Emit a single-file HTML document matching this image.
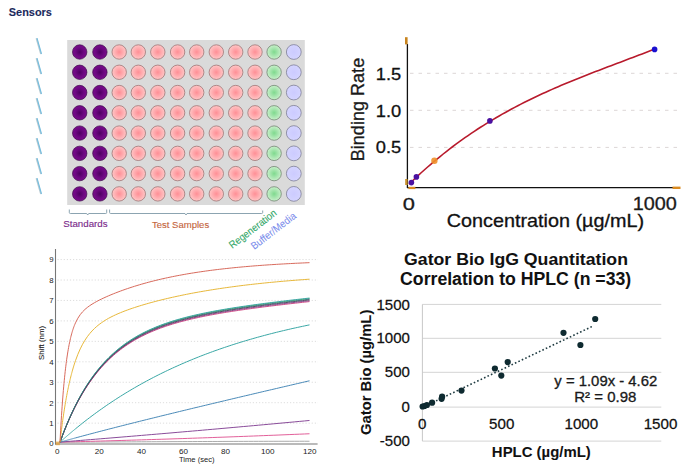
<!DOCTYPE html>
<html><head><meta charset="utf-8"><style>
html,body{margin:0;padding:0;background:#fff;width:694px;height:476px;overflow:hidden}
svg{position:absolute;left:0;top:0;display:block}
</style></head><body>
<svg width="694" height="476" viewBox="0 0 694 476">
<defs>
<radialGradient id="gP" cx="50%" cy="50%" r="50%"><stop offset="0" stop-color="#4e0062"/><stop offset="0.6" stop-color="#6e0882"/><stop offset="1" stop-color="#780c8a"/></radialGradient>
<radialGradient id="gR" cx="50%" cy="50%" r="50%"><stop offset="0" stop-color="#ff8f96"/><stop offset="1" stop-color="#ffc6c6"/></radialGradient>
<radialGradient id="gG" cx="50%" cy="50%" r="50%"><stop offset="0" stop-color="#7fd98e"/><stop offset="1" stop-color="#c9f0cb"/></radialGradient>
<radialGradient id="gB" cx="50%" cy="50%" r="50%"><stop offset="0" stop-color="#cccbff"/><stop offset="1" stop-color="#d4d4ff"/></radialGradient>
</defs>
<rect x="67.2" y="40" width="237.6" height="165" fill="#dadada"/>
<circle cx="79.70" cy="52.00" r="7.2" fill="url(#gP)" stroke="#3e0a4c" stroke-width="0.7"/>
<circle cx="99.90" cy="52.00" r="7.2" fill="url(#gP)" stroke="#3e0a4c" stroke-width="0.7"/>
<circle cx="119.20" cy="52.00" r="7.2" fill="url(#gR)" stroke="#9a7070" stroke-width="0.75"/>
<circle cx="138.30" cy="52.00" r="7.2" fill="url(#gR)" stroke="#9a7070" stroke-width="0.75"/>
<circle cx="157.80" cy="52.00" r="7.2" fill="url(#gR)" stroke="#9a7070" stroke-width="0.75"/>
<circle cx="177.60" cy="52.00" r="7.2" fill="url(#gR)" stroke="#9a7070" stroke-width="0.75"/>
<circle cx="196.70" cy="52.00" r="7.2" fill="url(#gR)" stroke="#9a7070" stroke-width="0.75"/>
<circle cx="216.30" cy="52.00" r="7.2" fill="url(#gR)" stroke="#9a7070" stroke-width="0.75"/>
<circle cx="235.70" cy="52.00" r="7.2" fill="url(#gR)" stroke="#9a7070" stroke-width="0.75"/>
<circle cx="255.00" cy="52.00" r="7.2" fill="url(#gR)" stroke="#9a7070" stroke-width="0.75"/>
<circle cx="274.10" cy="52.00" r="7.2" fill="url(#gG)" stroke="#6e806e" stroke-width="0.75"/>
<circle cx="293.80" cy="52.00" r="7.4" fill="url(#gB)" stroke="#7a7a92" stroke-width="0.75"/>
<circle cx="79.70" cy="72.27" r="7.2" fill="url(#gP)" stroke="#3e0a4c" stroke-width="0.7"/>
<circle cx="99.90" cy="72.27" r="7.2" fill="url(#gP)" stroke="#3e0a4c" stroke-width="0.7"/>
<circle cx="119.20" cy="72.27" r="7.2" fill="url(#gR)" stroke="#9a7070" stroke-width="0.75"/>
<circle cx="138.30" cy="72.27" r="7.2" fill="url(#gR)" stroke="#9a7070" stroke-width="0.75"/>
<circle cx="157.80" cy="72.27" r="7.2" fill="url(#gR)" stroke="#9a7070" stroke-width="0.75"/>
<circle cx="177.60" cy="72.27" r="7.2" fill="url(#gR)" stroke="#9a7070" stroke-width="0.75"/>
<circle cx="196.70" cy="72.27" r="7.2" fill="url(#gR)" stroke="#9a7070" stroke-width="0.75"/>
<circle cx="216.30" cy="72.27" r="7.2" fill="url(#gR)" stroke="#9a7070" stroke-width="0.75"/>
<circle cx="235.70" cy="72.27" r="7.2" fill="url(#gR)" stroke="#9a7070" stroke-width="0.75"/>
<circle cx="255.00" cy="72.27" r="7.2" fill="url(#gR)" stroke="#9a7070" stroke-width="0.75"/>
<circle cx="274.10" cy="72.27" r="7.2" fill="url(#gG)" stroke="#6e806e" stroke-width="0.75"/>
<circle cx="293.80" cy="72.27" r="7.4" fill="url(#gB)" stroke="#7a7a92" stroke-width="0.75"/>
<circle cx="79.70" cy="92.54" r="7.2" fill="url(#gP)" stroke="#3e0a4c" stroke-width="0.7"/>
<circle cx="99.90" cy="92.54" r="7.2" fill="url(#gP)" stroke="#3e0a4c" stroke-width="0.7"/>
<circle cx="119.20" cy="92.54" r="7.2" fill="url(#gR)" stroke="#9a7070" stroke-width="0.75"/>
<circle cx="138.30" cy="92.54" r="7.2" fill="url(#gR)" stroke="#9a7070" stroke-width="0.75"/>
<circle cx="157.80" cy="92.54" r="7.2" fill="url(#gR)" stroke="#9a7070" stroke-width="0.75"/>
<circle cx="177.60" cy="92.54" r="7.2" fill="url(#gR)" stroke="#9a7070" stroke-width="0.75"/>
<circle cx="196.70" cy="92.54" r="7.2" fill="url(#gR)" stroke="#9a7070" stroke-width="0.75"/>
<circle cx="216.30" cy="92.54" r="7.2" fill="url(#gR)" stroke="#9a7070" stroke-width="0.75"/>
<circle cx="235.70" cy="92.54" r="7.2" fill="url(#gR)" stroke="#9a7070" stroke-width="0.75"/>
<circle cx="255.00" cy="92.54" r="7.2" fill="url(#gR)" stroke="#9a7070" stroke-width="0.75"/>
<circle cx="274.10" cy="92.54" r="7.2" fill="url(#gG)" stroke="#6e806e" stroke-width="0.75"/>
<circle cx="293.80" cy="92.54" r="7.4" fill="url(#gB)" stroke="#7a7a92" stroke-width="0.75"/>
<circle cx="79.70" cy="112.81" r="7.2" fill="url(#gP)" stroke="#3e0a4c" stroke-width="0.7"/>
<circle cx="99.90" cy="112.81" r="7.2" fill="url(#gP)" stroke="#3e0a4c" stroke-width="0.7"/>
<circle cx="119.20" cy="112.81" r="7.2" fill="url(#gR)" stroke="#9a7070" stroke-width="0.75"/>
<circle cx="138.30" cy="112.81" r="7.2" fill="url(#gR)" stroke="#9a7070" stroke-width="0.75"/>
<circle cx="157.80" cy="112.81" r="7.2" fill="url(#gR)" stroke="#9a7070" stroke-width="0.75"/>
<circle cx="177.60" cy="112.81" r="7.2" fill="url(#gR)" stroke="#9a7070" stroke-width="0.75"/>
<circle cx="196.70" cy="112.81" r="7.2" fill="url(#gR)" stroke="#9a7070" stroke-width="0.75"/>
<circle cx="216.30" cy="112.81" r="7.2" fill="url(#gR)" stroke="#9a7070" stroke-width="0.75"/>
<circle cx="235.70" cy="112.81" r="7.2" fill="url(#gR)" stroke="#9a7070" stroke-width="0.75"/>
<circle cx="255.00" cy="112.81" r="7.2" fill="url(#gR)" stroke="#9a7070" stroke-width="0.75"/>
<circle cx="274.10" cy="112.81" r="7.2" fill="url(#gG)" stroke="#6e806e" stroke-width="0.75"/>
<circle cx="293.80" cy="112.81" r="7.4" fill="url(#gB)" stroke="#7a7a92" stroke-width="0.75"/>
<circle cx="79.70" cy="133.08" r="7.2" fill="url(#gP)" stroke="#3e0a4c" stroke-width="0.7"/>
<circle cx="99.90" cy="133.08" r="7.2" fill="url(#gP)" stroke="#3e0a4c" stroke-width="0.7"/>
<circle cx="119.20" cy="133.08" r="7.2" fill="url(#gR)" stroke="#9a7070" stroke-width="0.75"/>
<circle cx="138.30" cy="133.08" r="7.2" fill="url(#gR)" stroke="#9a7070" stroke-width="0.75"/>
<circle cx="157.80" cy="133.08" r="7.2" fill="url(#gR)" stroke="#9a7070" stroke-width="0.75"/>
<circle cx="177.60" cy="133.08" r="7.2" fill="url(#gR)" stroke="#9a7070" stroke-width="0.75"/>
<circle cx="196.70" cy="133.08" r="7.2" fill="url(#gR)" stroke="#9a7070" stroke-width="0.75"/>
<circle cx="216.30" cy="133.08" r="7.2" fill="url(#gR)" stroke="#9a7070" stroke-width="0.75"/>
<circle cx="235.70" cy="133.08" r="7.2" fill="url(#gR)" stroke="#9a7070" stroke-width="0.75"/>
<circle cx="255.00" cy="133.08" r="7.2" fill="url(#gR)" stroke="#9a7070" stroke-width="0.75"/>
<circle cx="274.10" cy="133.08" r="7.2" fill="url(#gG)" stroke="#6e806e" stroke-width="0.75"/>
<circle cx="293.80" cy="133.08" r="7.4" fill="url(#gB)" stroke="#7a7a92" stroke-width="0.75"/>
<circle cx="79.70" cy="153.35" r="7.2" fill="url(#gP)" stroke="#3e0a4c" stroke-width="0.7"/>
<circle cx="99.90" cy="153.35" r="7.2" fill="url(#gP)" stroke="#3e0a4c" stroke-width="0.7"/>
<circle cx="119.20" cy="153.35" r="7.2" fill="url(#gR)" stroke="#9a7070" stroke-width="0.75"/>
<circle cx="138.30" cy="153.35" r="7.2" fill="url(#gR)" stroke="#9a7070" stroke-width="0.75"/>
<circle cx="157.80" cy="153.35" r="7.2" fill="url(#gR)" stroke="#9a7070" stroke-width="0.75"/>
<circle cx="177.60" cy="153.35" r="7.2" fill="url(#gR)" stroke="#9a7070" stroke-width="0.75"/>
<circle cx="196.70" cy="153.35" r="7.2" fill="url(#gR)" stroke="#9a7070" stroke-width="0.75"/>
<circle cx="216.30" cy="153.35" r="7.2" fill="url(#gR)" stroke="#9a7070" stroke-width="0.75"/>
<circle cx="235.70" cy="153.35" r="7.2" fill="url(#gR)" stroke="#9a7070" stroke-width="0.75"/>
<circle cx="255.00" cy="153.35" r="7.2" fill="url(#gR)" stroke="#9a7070" stroke-width="0.75"/>
<circle cx="274.10" cy="153.35" r="7.2" fill="url(#gG)" stroke="#6e806e" stroke-width="0.75"/>
<circle cx="293.80" cy="153.35" r="7.4" fill="url(#gB)" stroke="#7a7a92" stroke-width="0.75"/>
<circle cx="79.70" cy="173.62" r="7.2" fill="url(#gP)" stroke="#3e0a4c" stroke-width="0.7"/>
<circle cx="99.90" cy="173.62" r="7.2" fill="url(#gP)" stroke="#3e0a4c" stroke-width="0.7"/>
<circle cx="119.20" cy="173.62" r="7.2" fill="url(#gR)" stroke="#9a7070" stroke-width="0.75"/>
<circle cx="138.30" cy="173.62" r="7.2" fill="url(#gR)" stroke="#9a7070" stroke-width="0.75"/>
<circle cx="157.80" cy="173.62" r="7.2" fill="url(#gR)" stroke="#9a7070" stroke-width="0.75"/>
<circle cx="177.60" cy="173.62" r="7.2" fill="url(#gR)" stroke="#9a7070" stroke-width="0.75"/>
<circle cx="196.70" cy="173.62" r="7.2" fill="url(#gR)" stroke="#9a7070" stroke-width="0.75"/>
<circle cx="216.30" cy="173.62" r="7.2" fill="url(#gR)" stroke="#9a7070" stroke-width="0.75"/>
<circle cx="235.70" cy="173.62" r="7.2" fill="url(#gR)" stroke="#9a7070" stroke-width="0.75"/>
<circle cx="255.00" cy="173.62" r="7.2" fill="url(#gR)" stroke="#9a7070" stroke-width="0.75"/>
<circle cx="274.10" cy="173.62" r="7.2" fill="url(#gG)" stroke="#6e806e" stroke-width="0.75"/>
<circle cx="293.80" cy="173.62" r="7.4" fill="url(#gB)" stroke="#7a7a92" stroke-width="0.75"/>
<circle cx="79.70" cy="193.89" r="7.2" fill="url(#gP)" stroke="#3e0a4c" stroke-width="0.7"/>
<circle cx="99.90" cy="193.89" r="7.2" fill="url(#gP)" stroke="#3e0a4c" stroke-width="0.7"/>
<circle cx="119.20" cy="193.89" r="7.2" fill="url(#gR)" stroke="#9a7070" stroke-width="0.75"/>
<circle cx="138.30" cy="193.89" r="7.2" fill="url(#gR)" stroke="#9a7070" stroke-width="0.75"/>
<circle cx="157.80" cy="193.89" r="7.2" fill="url(#gR)" stroke="#9a7070" stroke-width="0.75"/>
<circle cx="177.60" cy="193.89" r="7.2" fill="url(#gR)" stroke="#9a7070" stroke-width="0.75"/>
<circle cx="196.70" cy="193.89" r="7.2" fill="url(#gR)" stroke="#9a7070" stroke-width="0.75"/>
<circle cx="216.30" cy="193.89" r="7.2" fill="url(#gR)" stroke="#9a7070" stroke-width="0.75"/>
<circle cx="235.70" cy="193.89" r="7.2" fill="url(#gR)" stroke="#9a7070" stroke-width="0.75"/>
<circle cx="255.00" cy="193.89" r="7.2" fill="url(#gR)" stroke="#9a7070" stroke-width="0.75"/>
<circle cx="274.10" cy="193.89" r="7.2" fill="url(#gG)" stroke="#6e806e" stroke-width="0.75"/>
<circle cx="293.80" cy="193.89" r="7.4" fill="url(#gB)" stroke="#7a7a92" stroke-width="0.75"/>
<line x1="36.4" y1="38.2" x2="40.9" y2="54.0" stroke="#b8cad2" stroke-width="1.6"/>
<line x1="37.0" y1="38.2" x2="41.5" y2="54.0" stroke="#74bee0" stroke-width="1.1"/>
<line x1="36.4" y1="58.2" x2="40.9" y2="74.0" stroke="#b8cad2" stroke-width="1.6"/>
<line x1="37.0" y1="58.2" x2="41.5" y2="74.0" stroke="#74bee0" stroke-width="1.1"/>
<line x1="36.4" y1="78.2" x2="40.9" y2="94.0" stroke="#b8cad2" stroke-width="1.6"/>
<line x1="37.0" y1="78.2" x2="41.5" y2="94.0" stroke="#74bee0" stroke-width="1.1"/>
<line x1="36.4" y1="98.2" x2="40.9" y2="114.0" stroke="#b8cad2" stroke-width="1.6"/>
<line x1="37.0" y1="98.2" x2="41.5" y2="114.0" stroke="#74bee0" stroke-width="1.1"/>
<line x1="36.4" y1="118.2" x2="40.9" y2="134.0" stroke="#b8cad2" stroke-width="1.6"/>
<line x1="37.0" y1="118.2" x2="41.5" y2="134.0" stroke="#74bee0" stroke-width="1.1"/>
<line x1="36.4" y1="138.2" x2="40.9" y2="154.0" stroke="#b8cad2" stroke-width="1.6"/>
<line x1="37.0" y1="138.2" x2="41.5" y2="154.0" stroke="#74bee0" stroke-width="1.1"/>
<line x1="36.4" y1="158.2" x2="40.9" y2="174.0" stroke="#b8cad2" stroke-width="1.6"/>
<line x1="37.0" y1="158.2" x2="41.5" y2="174.0" stroke="#74bee0" stroke-width="1.1"/>
<line x1="36.4" y1="178.2" x2="40.9" y2="194.0" stroke="#b8cad2" stroke-width="1.6"/>
<line x1="37.0" y1="178.2" x2="41.5" y2="194.0" stroke="#74bee0" stroke-width="1.1"/>
<path d="M69.3,209.5 V212.5 Q69.3,213.5 70.3,213.5 H86.7 L87.7,215 L88.7,213.5 H105.7 Q106.7,213.5 106.7,212.5 V209.5" fill="none" stroke="#7f9aa8" stroke-width="0.9"/>
<path d="M109.6,209.5 V212.5 Q109.6,213.5 110.6,213.5 H185 L186,215 L187,213.5 H261.7 Q262.7,213.5 262.7,212.5 V210.5" fill="none" stroke="#7f9aa8" stroke-width="0.9"/>
<line x1="410" y1="73.3" x2="680" y2="73.3" stroke="#dcd6d6" stroke-width="1" stroke-dasharray="3.5,5"/>
<line x1="410" y1="110.3" x2="680" y2="110.3" stroke="#dcd6d6" stroke-width="1" stroke-dasharray="3.5,5"/>
<line x1="410" y1="147.4" x2="680" y2="147.4" stroke="#dcd6d6" stroke-width="1" stroke-dasharray="3.5,5"/>
<line x1="407.4" y1="44" x2="407.4" y2="188" stroke="#111" stroke-width="1.3"/>
<line x1="407" y1="187.6" x2="673" y2="187.6" stroke="#111" stroke-width="1.3"/>
<rect x="405" y="37.2" width="2.6" height="7.2" fill="#c8841e"/>
<rect x="672.5" y="186.6" width="8" height="2.4" fill="#d98a20"/>
<rect x="405.2" y="179" width="2.4" height="6" fill="#c8902a"/>
<rect x="408.4" y="186.8" width="7" height="2.3" fill="#d98a20"/>
<path d="M409.00,184.22 L412.11,181.22 L415.22,178.27 L418.33,175.37 L421.44,172.53 L424.54,169.74 L427.65,166.99 L430.76,164.30 L433.87,161.65 L436.98,159.06 L440.09,156.51 L443.20,154.00 L446.31,151.54 L449.42,149.13 L452.52,146.76 L455.63,144.43 L458.74,142.15 L461.85,139.91 L464.96,137.70 L468.07,135.54 L471.18,133.42 L474.29,131.33 L477.39,129.29 L480.50,127.28 L483.61,125.30 L486.72,123.36 L489.83,121.46 L492.94,119.59 L496.05,117.75 L499.16,115.95 L502.27,114.17 L505.37,112.43 L508.48,110.71 L511.59,109.03 L514.70,107.37 L517.81,105.74 L520.92,104.14 L524.03,102.56 L527.14,101.01 L530.25,99.48 L533.35,97.97 L536.46,96.49 L539.57,95.03 L542.68,93.59 L545.79,92.17 L548.90,90.77 L552.01,89.39 L555.12,88.02 L558.23,86.68 L561.33,85.35 L564.44,84.03 L567.55,82.73 L570.66,81.45 L573.77,80.18 L576.88,78.92 L579.99,77.67 L583.10,76.43 L586.21,75.20 L589.31,73.98 L592.42,72.77 L595.53,71.57 L598.64,70.38 L601.75,69.19 L604.86,68.00 L607.97,66.82 L611.08,65.65 L614.18,64.47 L617.29,63.30 L620.40,62.13 L623.51,60.96 L626.62,59.79 L629.73,58.62 L632.84,57.45 L635.95,56.28 L639.06,55.10 L642.16,53.92 L645.27,52.73 L648.38,51.53 L651.49,50.34 L654.60,49.13" fill="none" stroke="#b81a2c" stroke-width="1.6"/>
<circle cx="411.4" cy="182.6" r="2.8" fill="#4a10a0"/>
<circle cx="416.4" cy="176.9" r="2.8" fill="#4a10a0"/>
<circle cx="489.9" cy="120.9" r="2.8" fill="#4a10a0"/>
<circle cx="654.6" cy="49.4" r="2.8" fill="#1a10d0"/>
<circle cx="434.4" cy="160.8" r="3.2" fill="#f0902a" opacity="0.9"/>
<line x1="57.5" y1="423.15" x2="318" y2="423.15" stroke="#d4d4d4" stroke-width="0.8" stroke-dasharray="1.2,1.9"/>
<line x1="57.5" y1="402.70" x2="318" y2="402.70" stroke="#d4d4d4" stroke-width="0.8" stroke-dasharray="1.2,1.9"/>
<line x1="57.5" y1="382.25" x2="318" y2="382.25" stroke="#d4d4d4" stroke-width="0.8" stroke-dasharray="1.2,1.9"/>
<line x1="57.5" y1="361.80" x2="318" y2="361.80" stroke="#d4d4d4" stroke-width="0.8" stroke-dasharray="1.2,1.9"/>
<line x1="57.5" y1="341.35" x2="318" y2="341.35" stroke="#d4d4d4" stroke-width="0.8" stroke-dasharray="1.2,1.9"/>
<line x1="57.5" y1="320.90" x2="318" y2="320.90" stroke="#d4d4d4" stroke-width="0.8" stroke-dasharray="1.2,1.9"/>
<line x1="57.5" y1="300.45" x2="318" y2="300.45" stroke="#d4d4d4" stroke-width="0.8" stroke-dasharray="1.2,1.9"/>
<line x1="57.5" y1="280.00" x2="318" y2="280.00" stroke="#d4d4d4" stroke-width="0.8" stroke-dasharray="1.2,1.9"/>
<line x1="57.5" y1="259.55" x2="318" y2="259.55" stroke="#d4d4d4" stroke-width="0.8" stroke-dasharray="1.2,1.9"/>
<line x1="55.5" y1="249" x2="55.5" y2="444.5" stroke="#777" stroke-width="1.1"/>
<line x1="55" y1="444" x2="317.6" y2="444" stroke="#777" stroke-width="1.1"/>
<rect x="55.7" y="441.6" width="4.2" height="3.6" fill="#e0a040" opacity="0.8"/>
<path d="M60.00,442.25 L65.09,442.22 L70.18,442.18 L75.28,442.15 L80.37,442.12 L85.46,442.09 L90.55,442.06 L95.64,442.03 L100.73,442.00 L105.83,441.97 L110.92,441.94 L116.01,441.91 L121.10,441.88 L126.19,441.85 L131.29,441.83 L136.38,441.80 L141.47,441.78 L146.56,441.75 L151.65,441.73 L156.74,441.70 L161.84,441.68 L166.93,441.66 L172.02,441.63 L177.11,441.61 L182.20,441.59 L187.30,441.57 L192.39,441.55 L197.48,441.53 L202.57,441.51 L207.66,441.49 L212.76,441.48 L217.85,441.46 L222.94,441.44 L228.03,441.42 L233.12,441.41 L238.21,441.39 L243.31,441.38 L248.40,441.36 L253.49,441.35 L258.58,441.34 L263.67,441.33 L268.77,441.31 L273.86,441.30 L278.95,441.29 L284.04,441.28 L289.13,441.27 L294.22,441.26 L299.32,441.25 L304.41,441.24 L309.50,441.24" fill="none" stroke="#a0a0a0" stroke-width="0.9"/>
<path d="M60.00,442.10 L65.09,441.97 L70.18,441.84 L75.28,441.72 L80.37,441.58 L85.46,441.45 L90.55,441.32 L95.64,441.18 L100.73,441.04 L105.83,440.90 L110.92,440.76 L116.01,440.62 L121.10,440.47 L126.19,440.32 L131.29,440.17 L136.38,440.02 L141.47,439.87 L146.56,439.71 L151.65,439.56 L156.74,439.40 L161.84,439.24 L166.93,439.08 L172.02,438.91 L177.11,438.74 L182.20,438.58 L187.30,438.41 L192.39,438.23 L197.48,438.06 L202.57,437.88 L207.66,437.71 L212.76,437.53 L217.85,437.34 L222.94,437.16 L228.03,436.98 L233.12,436.79 L238.21,436.60 L243.31,436.41 L248.40,436.21 L253.49,436.02 L258.58,435.82 L263.67,435.62 L268.77,435.42 L273.86,435.22 L278.95,435.02 L284.04,434.81 L289.13,434.60 L294.22,434.39 L299.32,434.18 L304.41,433.97 L309.50,433.75" fill="none" stroke="#e2609a" stroke-width="1"/>
<path d="M60.00,442.06 L65.09,441.66 L70.18,441.26 L75.28,440.85 L80.37,440.44 L85.46,440.03 L90.55,439.62 L95.64,439.21 L100.73,438.79 L105.83,438.38 L110.92,437.96 L116.01,437.54 L121.10,437.12 L126.19,436.70 L131.29,436.27 L136.38,435.85 L141.47,435.42 L146.56,434.99 L151.65,434.56 L156.74,434.13 L161.84,433.70 L166.93,433.27 L172.02,432.83 L177.11,432.39 L182.20,431.95 L187.30,431.51 L192.39,431.07 L197.48,430.63 L202.57,430.18 L207.66,429.73 L212.76,429.29 L217.85,428.84 L222.94,428.39 L228.03,427.93 L233.12,427.48 L238.21,427.02 L243.31,426.56 L248.40,426.11 L253.49,425.65 L258.58,425.18 L263.67,424.72 L268.77,424.25 L273.86,423.79 L278.95,423.32 L284.04,422.85 L289.13,422.38 L294.22,421.91 L299.32,421.43 L304.41,420.96 L309.50,420.48" fill="none" stroke="#8a4c9a" stroke-width="1"/>
<path d="M60.00,442.20 L60.31,442.11 L60.61,442.03 L60.92,441.94 L61.22,441.86 L61.53,441.77 L61.84,441.68 L62.14,441.60 L62.45,441.51 L62.76,441.43 L63.06,441.34 L63.37,441.26 L63.67,441.17 L63.98,441.09 L64.29,441.00 L64.59,440.92 L64.90,440.83 L65.20,440.75 L65.51,440.66 L65.82,440.58 L66.12,440.49 L66.43,440.41 L66.73,440.32 L67.04,440.24 L67.35,440.15 L67.65,440.07 L67.96,439.98 L68.27,439.90 L68.57,439.81 L68.88,439.73 L69.18,439.65 L69.49,439.56 L69.80,439.48 L70.10,439.39 L70.41,439.31 L70.71,439.22 L71.02,439.14 L71.33,439.06 L71.63,438.97 L71.94,438.89 L72.24,438.81 L72.55,438.72 L72.86,438.64 L73.16,438.55 L73.47,438.47 L73.78,438.39 L74.08,438.30 L74.39,438.22 L74.69,438.14 L75.00,438.05 L75.50,437.92 L77.86,437.28 L80.23,436.64 L82.59,436.00 L84.95,435.37 L87.32,434.74 L89.68,434.12 L92.05,433.49 L94.41,432.87 L96.77,432.25 L99.14,431.63 L101.50,431.02 L103.86,430.40 L106.23,429.79 L108.59,429.18 L110.95,428.57 L113.32,427.97 L115.68,427.36 L118.05,426.76 L120.41,426.16 L122.77,425.56 L125.14,424.96 L127.50,424.37 L129.86,423.77 L132.23,423.18 L134.59,422.58 L136.95,421.99 L139.32,421.40 L141.68,420.81 L144.05,420.23 L146.41,419.64 L148.77,419.05 L151.14,418.47 L153.50,417.89 L155.86,417.30 L158.23,416.72 L160.59,416.14 L162.95,415.56 L165.32,414.98 L167.68,414.41 L170.05,413.83 L172.41,413.25 L174.77,412.68 L177.14,412.10 L179.50,411.53 L181.86,410.96 L184.23,410.39 L186.59,409.81 L188.95,409.24 L191.32,408.67 L193.68,408.10 L196.05,407.53 L198.41,406.97 L200.77,406.40 L203.14,405.83 L205.50,405.27 L207.86,404.70 L210.23,404.13 L212.59,403.57 L214.95,403.01 L217.32,402.44 L219.68,401.88 L222.05,401.32 L224.41,400.75 L226.77,400.19 L229.14,399.63 L231.50,399.07 L233.86,398.51 L236.23,397.95 L238.59,397.39 L240.95,396.83 L243.32,396.27 L245.68,395.71 L248.05,395.16 L250.41,394.60 L252.77,394.04 L255.14,393.49 L257.50,392.93 L259.86,392.37 L262.23,391.82 L264.59,391.26 L266.95,390.71 L269.32,390.16 L271.68,389.60 L274.05,389.05 L276.41,388.50 L278.77,387.94 L281.14,387.39 L283.50,386.84 L285.86,386.29 L288.23,385.74 L290.59,385.19 L292.95,384.63 L295.32,384.08 L297.68,383.53 L300.05,382.99 L302.41,382.44 L304.77,381.89 L307.14,381.34 L309.50,380.79" fill="none" stroke="#4a8ab8" stroke-width="1"/>
<path d="M60.00,442.20 L60.31,441.92 L60.61,441.65 L60.92,441.37 L61.22,441.10 L61.53,440.82 L61.84,440.55 L62.14,440.27 L62.45,440.00 L62.76,439.73 L63.06,439.46 L63.37,439.19 L63.67,438.91 L63.98,438.64 L64.29,438.37 L64.59,438.10 L64.90,437.83 L65.20,437.57 L65.51,437.30 L65.82,437.03 L66.12,436.76 L66.43,436.50 L66.73,436.23 L67.04,435.96 L67.35,435.70 L67.65,435.43 L67.96,435.17 L68.27,434.91 L68.57,434.64 L68.88,434.38 L69.18,434.12 L69.49,433.86 L69.80,433.60 L70.10,433.33 L70.41,433.07 L70.71,432.81 L71.02,432.55 L71.33,432.30 L71.63,432.04 L71.94,431.78 L72.24,431.52 L72.55,431.26 L72.86,431.01 L73.16,430.75 L73.47,430.50 L73.78,430.24 L74.08,429.99 L74.39,429.73 L74.69,429.48 L75.00,429.22 L75.50,428.81 L77.86,426.88 L80.23,424.97 L82.59,423.09 L84.95,421.23 L87.32,419.41 L89.68,417.60 L92.05,415.82 L94.41,414.07 L96.77,412.34 L99.14,410.64 L101.50,408.96 L103.86,407.30 L106.23,405.67 L108.59,404.06 L110.95,402.47 L113.32,400.90 L115.68,399.36 L118.05,397.84 L120.41,396.34 L122.77,394.86 L125.14,393.40 L127.50,391.96 L129.86,390.54 L132.23,389.14 L134.59,387.76 L136.95,386.40 L139.32,385.06 L141.68,383.74 L144.05,382.44 L146.41,381.15 L148.77,379.89 L151.14,378.64 L153.50,377.40 L155.86,376.19 L158.23,374.99 L160.59,373.81 L162.95,372.65 L165.32,371.50 L167.68,370.37 L170.05,369.25 L172.41,368.15 L174.77,367.07 L177.14,366.00 L179.50,364.94 L181.86,363.90 L184.23,362.88 L186.59,361.87 L188.95,360.87 L191.32,359.89 L193.68,358.92 L196.05,357.96 L198.41,357.02 L200.77,356.09 L203.14,355.17 L205.50,354.27 L207.86,353.38 L210.23,352.50 L212.59,351.64 L214.95,350.78 L217.32,349.94 L219.68,349.11 L222.05,348.29 L224.41,347.49 L226.77,346.69 L229.14,345.91 L231.50,345.13 L233.86,344.37 L236.23,343.62 L238.59,342.88 L240.95,342.15 L243.32,341.43 L245.68,340.72 L248.05,340.02 L250.41,339.33 L252.77,338.65 L255.14,337.97 L257.50,337.31 L259.86,336.66 L262.23,336.02 L264.59,335.38 L266.95,334.75 L269.32,334.14 L271.68,333.53 L274.05,332.93 L276.41,332.34 L278.77,331.76 L281.14,331.18 L283.50,330.61 L285.86,330.05 L288.23,329.50 L290.59,328.96 L292.95,328.42 L295.32,327.90 L297.68,327.38 L300.05,326.86 L302.41,326.36 L304.77,325.86 L307.14,325.36 L309.50,324.88" fill="none" stroke="#3aa8a6" stroke-width="1"/>
<path d="M60.00,442.20 L60.31,441.36 L60.61,440.53 L60.92,439.71 L61.22,438.89 L61.53,438.07 L61.84,437.26 L62.14,436.46 L62.45,435.66 L62.76,434.87 L63.06,434.08 L63.37,433.30 L63.67,432.53 L63.98,431.75 L64.29,430.99 L64.59,430.23 L64.90,429.47 L65.20,428.72 L65.51,427.97 L65.82,427.23 L66.12,426.50 L66.43,425.77 L66.73,425.04 L67.04,424.32 L67.35,423.60 L67.65,422.89 L67.96,422.18 L68.27,421.48 L68.57,420.78 L68.88,420.09 L69.18,419.40 L69.49,418.72 L69.80,418.04 L70.10,417.37 L70.41,416.70 L70.71,416.03 L71.02,415.37 L71.33,414.71 L71.63,414.06 L71.94,413.41 L72.24,412.77 L72.55,412.13 L72.86,411.49 L73.16,410.86 L73.47,410.24 L73.78,409.61 L74.08,409.00 L74.39,408.38 L74.69,407.77 L75.00,407.17 L75.50,406.18 L77.86,401.69 L80.23,397.41 L82.59,393.35 L84.95,389.49 L87.32,385.82 L89.68,382.33 L92.05,379.02 L94.41,375.86 L96.77,372.86 L99.14,370.00 L101.50,367.28 L103.86,364.69 L106.23,362.23 L108.59,359.88 L110.95,357.64 L113.32,355.51 L115.68,353.47 L118.05,351.53 L120.41,349.68 L122.77,347.92 L125.14,346.23 L127.50,344.62 L129.86,343.08 L132.23,341.61 L134.59,340.20 L136.95,338.85 L139.32,337.57 L141.68,336.33 L144.05,335.15 L146.41,334.02 L148.77,332.93 L151.14,331.89 L153.50,330.89 L155.86,329.93 L158.23,329.01 L160.59,328.12 L162.95,327.27 L165.32,326.44 L167.68,325.65 L170.05,324.89 L172.41,324.15 L174.77,323.44 L177.14,322.76 L179.50,322.09 L181.86,321.45 L184.23,320.83 L186.59,320.23 L188.95,319.65 L191.32,319.08 L193.68,318.54 L196.05,318.00 L198.41,317.49 L200.77,316.98 L203.14,316.50 L205.50,316.02 L207.86,315.56 L210.23,315.10 L212.59,314.66 L214.95,314.23 L217.32,313.81 L219.68,313.40 L222.05,312.99 L224.41,312.60 L226.77,312.21 L229.14,311.83 L231.50,311.46 L233.86,311.10 L236.23,310.74 L238.59,310.39 L240.95,310.04 L243.32,309.70 L245.68,309.36 L248.05,309.03 L250.41,308.71 L252.77,308.39 L255.14,308.07 L257.50,307.76 L259.86,307.45 L262.23,307.14 L264.59,306.84 L266.95,306.54 L269.32,306.25 L271.68,305.95 L274.05,305.67 L276.41,305.38 L278.77,305.10 L281.14,304.81 L283.50,304.54 L285.86,304.26 L288.23,303.98 L290.59,303.71 L292.95,303.44 L295.32,303.17 L297.68,302.91 L300.05,302.64 L302.41,302.38 L304.77,302.12 L307.14,301.86 L309.50,301.60" fill="none" stroke="#d0407a" stroke-width="0.9"/>
<path d="M60.00,442.20 L60.31,441.36 L60.61,440.52 L60.92,439.69 L61.22,438.87 L61.53,438.05 L61.84,437.23 L62.14,436.43 L62.45,435.62 L62.76,434.83 L63.06,434.03 L63.37,433.25 L63.67,432.47 L63.98,431.69 L64.29,430.92 L64.59,430.15 L64.90,429.39 L65.20,428.64 L65.51,427.89 L65.82,427.14 L66.12,426.40 L66.43,425.67 L66.73,424.94 L67.04,424.21 L67.35,423.49 L67.65,422.77 L67.96,422.06 L68.27,421.36 L68.57,420.65 L68.88,419.96 L69.18,419.26 L69.49,418.58 L69.80,417.89 L70.10,417.21 L70.41,416.54 L70.71,415.87 L71.02,415.21 L71.33,414.55 L71.63,413.89 L71.94,413.24 L72.24,412.59 L72.55,411.95 L72.86,411.31 L73.16,410.67 L73.47,410.04 L73.78,409.42 L74.08,408.79 L74.39,408.18 L74.69,407.56 L75.00,406.95 L75.50,405.96 L77.86,401.44 L80.23,397.14 L82.59,393.05 L84.95,389.17 L87.32,385.48 L89.68,381.97 L92.05,378.63 L94.41,375.46 L96.77,372.44 L99.14,369.56 L101.50,366.83 L103.86,364.22 L106.23,361.74 L108.59,359.38 L110.95,357.13 L113.32,354.98 L115.68,352.93 L118.05,350.98 L120.41,349.12 L122.77,347.34 L125.14,345.65 L127.50,344.02 L129.86,342.48 L132.23,341.00 L134.59,339.58 L136.95,338.23 L139.32,336.93 L141.68,335.69 L144.05,334.50 L146.41,333.36 L148.77,332.27 L151.14,331.22 L153.50,330.21 L155.86,329.25 L158.23,328.32 L160.59,327.43 L162.95,326.57 L165.32,325.74 L167.68,324.94 L170.05,324.18 L172.41,323.43 L174.77,322.72 L177.14,322.03 L179.50,321.36 L181.86,320.72 L184.23,320.09 L186.59,319.49 L188.95,318.90 L191.32,318.34 L193.68,317.78 L196.05,317.25 L198.41,316.73 L200.77,316.22 L203.14,315.73 L205.50,315.25 L207.86,314.79 L210.23,314.33 L212.59,313.89 L214.95,313.45 L217.32,313.03 L219.68,312.61 L222.05,312.21 L224.41,311.81 L226.77,311.42 L229.14,311.04 L231.50,310.67 L233.86,310.30 L236.23,309.94 L238.59,309.58 L240.95,309.24 L243.32,308.89 L245.68,308.56 L248.05,308.22 L250.41,307.90 L252.77,307.57 L255.14,307.25 L257.50,306.94 L259.86,306.63 L262.23,306.32 L264.59,306.02 L266.95,305.72 L269.32,305.42 L271.68,305.13 L274.05,304.84 L276.41,304.55 L278.77,304.26 L281.14,303.98 L283.50,303.70 L285.86,303.42 L288.23,303.14 L290.59,302.87 L292.95,302.60 L295.32,302.33 L297.68,302.06 L300.05,301.79 L302.41,301.53 L304.77,301.27 L307.14,301.00 L309.50,300.74" fill="none" stroke="#8a3a8a" stroke-width="0.9"/>
<path d="M60.00,442.20 L60.31,441.35 L60.61,440.50 L60.92,439.66 L61.22,438.83 L61.53,438.00 L61.84,437.18 L62.14,436.36 L62.45,435.55 L62.76,434.74 L63.06,433.94 L63.37,433.15 L63.67,432.36 L63.98,431.57 L64.29,430.79 L64.59,430.02 L64.90,429.25 L65.20,428.49 L65.51,427.73 L65.82,426.97 L66.12,426.23 L66.43,425.48 L66.73,424.74 L67.04,424.01 L67.35,423.28 L67.65,422.56 L67.96,421.84 L68.27,421.12 L68.57,420.41 L68.88,419.71 L69.18,419.01 L69.49,418.31 L69.80,417.62 L70.10,416.94 L70.41,416.26 L70.71,415.58 L71.02,414.91 L71.33,414.24 L71.63,413.58 L71.94,412.92 L72.24,412.26 L72.55,411.61 L72.86,410.97 L73.16,410.32 L73.47,409.69 L73.78,409.05 L74.08,408.42 L74.39,407.80 L74.69,407.18 L75.00,406.56 L75.50,405.56 L77.86,400.99 L80.23,396.64 L82.59,392.51 L84.95,388.58 L87.32,384.85 L89.68,381.30 L92.05,377.93 L94.41,374.72 L96.77,371.66 L99.14,368.76 L101.50,365.99 L103.86,363.36 L106.23,360.85 L108.59,358.46 L110.95,356.18 L113.32,354.01 L115.68,351.94 L118.05,349.97 L120.41,348.09 L122.77,346.29 L125.14,344.58 L127.50,342.94 L129.86,341.37 L132.23,339.87 L134.59,338.44 L136.95,337.07 L139.32,335.76 L141.68,334.51 L144.05,333.31 L146.41,332.16 L148.77,331.05 L151.14,329.99 L153.50,328.97 L155.86,328.00 L158.23,327.06 L160.59,326.15 L162.95,325.29 L165.32,324.45 L167.68,323.64 L170.05,322.87 L172.41,322.12 L174.77,321.40 L177.14,320.70 L179.50,320.02 L181.86,319.37 L184.23,318.74 L186.59,318.13 L188.95,317.54 L191.32,316.96 L193.68,316.41 L196.05,315.86 L198.41,315.34 L200.77,314.83 L203.14,314.33 L205.50,313.85 L207.86,313.37 L210.23,312.91 L212.59,312.46 L214.95,312.03 L217.32,311.60 L219.68,311.18 L222.05,310.77 L224.41,310.37 L226.77,309.97 L229.14,309.59 L231.50,309.21 L233.86,308.84 L236.23,308.47 L238.59,308.12 L240.95,307.76 L243.32,307.42 L245.68,307.08 L248.05,306.74 L250.41,306.41 L252.77,306.08 L255.14,305.76 L257.50,305.44 L259.86,305.13 L262.23,304.82 L264.59,304.51 L266.95,304.21 L269.32,303.90 L271.68,303.61 L274.05,303.31 L276.41,303.02 L278.77,302.73 L281.14,302.45 L283.50,302.16 L285.86,301.88 L288.23,301.60 L290.59,301.33 L292.95,301.05 L295.32,300.78 L297.68,300.51 L300.05,300.24 L302.41,299.97 L304.77,299.71 L307.14,299.44 L309.50,299.18" fill="none" stroke="#3a62a8" stroke-width="0.9"/>
<path d="M60.00,442.20 L60.31,441.35 L60.61,440.50 L60.92,439.65 L61.22,438.82 L61.53,437.99 L61.84,437.16 L62.14,436.34 L62.45,435.52 L62.76,434.71 L63.06,433.91 L63.37,433.11 L63.67,432.32 L63.98,431.53 L64.29,430.75 L64.59,429.97 L64.90,429.20 L65.20,428.43 L65.51,427.67 L65.82,426.91 L66.12,426.16 L66.43,425.42 L66.73,424.67 L67.04,423.94 L67.35,423.21 L67.65,422.48 L67.96,421.76 L68.27,421.04 L68.57,420.33 L68.88,419.62 L69.18,418.92 L69.49,418.22 L69.80,417.53 L70.10,416.84 L70.41,416.15 L70.71,415.47 L71.02,414.80 L71.33,414.13 L71.63,413.46 L71.94,412.80 L72.24,412.14 L72.55,411.49 L72.86,410.84 L73.16,410.20 L73.47,409.56 L73.78,408.92 L74.08,408.29 L74.39,407.66 L74.69,407.04 L75.00,406.42 L75.50,405.42 L77.86,400.82 L80.23,396.46 L82.59,392.31 L84.95,388.37 L87.32,384.62 L89.68,381.06 L92.05,377.67 L94.41,374.45 L96.77,371.38 L99.14,368.47 L101.50,365.69 L103.86,363.04 L106.23,360.53 L108.59,358.13 L110.95,355.84 L113.32,353.66 L115.68,351.58 L118.05,349.60 L120.41,347.71 L122.77,345.91 L125.14,344.19 L127.50,342.54 L129.86,340.97 L132.23,339.47 L134.59,338.03 L136.95,336.66 L139.32,335.34 L141.68,334.08 L144.05,332.87 L146.41,331.72 L148.77,330.61 L151.14,329.54 L153.50,328.52 L155.86,327.54 L158.23,326.60 L160.59,325.69 L162.95,324.82 L165.32,323.98 L167.68,323.17 L170.05,322.39 L172.41,321.64 L174.77,320.91 L177.14,320.21 L179.50,319.54 L181.86,318.88 L184.23,318.25 L186.59,317.64 L188.95,317.04 L191.32,316.46 L193.68,315.90 L196.05,315.36 L198.41,314.83 L200.77,314.32 L203.14,313.82 L205.50,313.33 L207.86,312.86 L210.23,312.40 L212.59,311.95 L214.95,311.51 L217.32,311.08 L219.68,310.66 L222.05,310.25 L224.41,309.84 L226.77,309.45 L229.14,309.06 L231.50,308.68 L233.86,308.31 L236.23,307.94 L238.59,307.58 L240.95,307.23 L243.32,306.88 L245.68,306.54 L248.05,306.20 L250.41,305.87 L252.77,305.54 L255.14,305.21 L257.50,304.90 L259.86,304.58 L262.23,304.27 L264.59,303.96 L266.95,303.66 L269.32,303.35 L271.68,303.06 L274.05,302.76 L276.41,302.47 L278.77,302.18 L281.14,301.89 L283.50,301.61 L285.86,301.32 L288.23,301.04 L290.59,300.77 L292.95,300.49 L295.32,300.22 L297.68,299.94 L300.05,299.67 L302.41,299.40 L304.77,299.14 L307.14,298.87 L309.50,298.61" fill="none" stroke="#48a860" stroke-width="0.9"/>
<path d="M60.00,442.20 L60.31,441.34 L60.61,440.49 L60.92,439.64 L61.22,438.80 L61.53,437.97 L61.84,437.14 L62.14,436.32 L62.45,435.50 L62.76,434.69 L63.06,433.88 L63.37,433.08 L63.67,432.28 L63.98,431.49 L64.29,430.70 L64.59,429.92 L64.90,429.15 L65.20,428.38 L65.51,427.61 L65.82,426.85 L66.12,426.10 L66.43,425.35 L66.73,424.60 L67.04,423.87 L67.35,423.13 L67.65,422.40 L67.96,421.68 L68.27,420.96 L68.57,420.24 L68.88,419.53 L69.18,418.83 L69.49,418.12 L69.80,417.43 L70.10,416.74 L70.41,416.05 L70.71,415.37 L71.02,414.69 L71.33,414.02 L71.63,413.35 L71.94,412.68 L72.24,412.02 L72.55,411.37 L72.86,410.72 L73.16,410.07 L73.47,409.43 L73.78,408.79 L74.08,408.15 L74.39,407.53 L74.69,406.90 L75.00,406.28 L75.50,405.27 L77.86,400.66 L80.23,396.28 L82.59,392.11 L84.95,388.16 L87.32,384.39 L89.68,380.82 L92.05,377.42 L94.41,374.18 L96.77,371.10 L99.14,368.17 L101.50,365.38 L103.86,362.73 L106.23,360.20 L108.59,357.79 L110.95,355.50 L113.32,353.31 L115.68,351.23 L118.05,349.24 L120.41,347.34 L122.77,345.53 L125.14,343.80 L127.50,342.15 L129.86,340.57 L132.23,339.06 L134.59,337.62 L136.95,336.24 L139.32,334.92 L141.68,333.65 L144.05,332.44 L146.41,331.28 L148.77,330.17 L151.14,329.10 L153.50,328.07 L155.86,327.09 L158.23,326.14 L160.59,325.23 L162.95,324.35 L165.32,323.51 L167.68,322.70 L170.05,321.92 L172.41,321.16 L174.77,320.43 L177.14,319.73 L179.50,319.05 L181.86,318.39 L184.23,317.76 L186.59,317.14 L188.95,316.54 L191.32,315.97 L193.68,315.40 L196.05,314.86 L198.41,314.33 L200.77,313.81 L203.14,313.31 L205.50,312.82 L207.86,312.35 L210.23,311.88 L212.59,311.43 L214.95,310.99 L217.32,310.56 L219.68,310.13 L222.05,309.72 L224.41,309.32 L226.77,308.92 L229.14,308.53 L231.50,308.15 L233.86,307.78 L236.23,307.41 L238.59,307.05 L240.95,306.69 L243.32,306.34 L245.68,306.00 L248.05,305.66 L250.41,305.33 L252.77,305.00 L255.14,304.67 L257.50,304.35 L259.86,304.03 L262.23,303.72 L264.59,303.41 L266.95,303.11 L269.32,302.80 L271.68,302.50 L274.05,302.21 L276.41,301.91 L278.77,301.62 L281.14,301.33 L283.50,301.05 L285.86,300.76 L288.23,300.48 L290.59,300.20 L292.95,299.93 L295.32,299.65 L297.68,299.38 L300.05,299.11 L302.41,298.84 L304.77,298.57 L307.14,298.30 L309.50,298.04" fill="none" stroke="#2ea0a2" stroke-width="0.9"/>
<path d="M60.00,442.20 L60.31,441.35 L60.61,440.51 L60.92,439.68 L61.22,438.85 L61.53,438.02 L61.84,437.20 L62.14,436.39 L62.45,435.58 L62.76,434.78 L63.06,433.98 L63.37,433.19 L63.67,432.41 L63.98,431.63 L64.29,430.85 L64.59,430.08 L64.90,429.32 L65.20,428.56 L65.51,427.80 L65.82,427.05 L66.12,426.31 L66.43,425.57 L66.73,424.83 L67.04,424.10 L67.35,423.38 L67.65,422.66 L67.96,421.94 L68.27,421.23 L68.57,420.52 L68.88,419.82 L69.18,419.13 L69.49,418.43 L69.80,417.75 L70.10,417.06 L70.41,416.39 L70.71,415.71 L71.02,415.04 L71.33,414.38 L71.63,413.72 L71.94,413.06 L72.24,412.41 L72.55,411.76 L72.86,411.12 L73.16,410.48 L73.47,409.85 L73.78,409.22 L74.08,408.59 L74.39,407.97 L74.69,407.35 L75.00,406.74 L75.50,405.75 L77.86,401.19 L80.23,396.87 L82.59,392.76 L84.95,388.85 L87.32,385.14 L89.68,381.61 L92.05,378.25 L94.41,375.05 L96.77,372.02 L99.14,369.12 L101.50,366.37 L103.86,363.75 L106.23,361.25 L108.59,358.88 L110.95,356.61 L113.32,354.45 L115.68,352.39 L118.05,350.43 L120.41,348.56 L122.77,346.77 L125.14,345.06 L127.50,343.43 L129.86,341.87 L132.23,340.38 L134.59,338.96 L136.95,337.60 L139.32,336.29 L141.68,335.05 L144.05,333.85 L146.41,332.70 L148.77,331.60 L151.14,330.55 L153.50,329.54 L155.86,328.57 L158.23,327.63 L160.59,326.73 L162.95,325.87 L165.32,325.04 L167.68,324.23 L170.05,323.46 L172.41,322.72 L174.77,322.00 L177.14,321.30 L179.50,320.63 L181.86,319.98 L184.23,319.36 L186.59,318.75 L188.95,318.16 L191.32,317.59 L193.68,317.03 L196.05,316.49 L198.41,315.97 L200.77,315.46 L203.14,314.97 L205.50,314.49 L207.86,314.02 L210.23,313.56 L212.59,313.11 L214.95,312.67 L217.32,312.25 L219.68,311.83 L222.05,311.42 L224.41,311.02 L226.77,310.63 L229.14,310.25 L231.50,309.87 L233.86,309.50 L236.23,309.14 L238.59,308.78 L240.95,308.43 L243.32,308.09 L245.68,307.75 L248.05,307.41 L250.41,307.08 L252.77,306.76 L255.14,306.44 L257.50,306.12 L259.86,305.81 L262.23,305.50 L264.59,305.19 L266.95,304.89 L269.32,304.59 L271.68,304.30 L274.05,304.01 L276.41,303.72 L278.77,303.43 L281.14,303.14 L283.50,302.86 L285.86,302.58 L288.23,302.30 L290.59,302.03 L292.95,301.76 L295.32,301.48 L297.68,301.21 L300.05,300.95 L302.41,300.68 L304.77,300.41 L307.14,300.15 L309.50,299.89" fill="none" stroke="#4a4658" stroke-width="0.9"/>
<path d="M60.00,442.20 L60.31,439.53 L60.61,436.93 L60.92,434.38 L61.22,431.89 L61.53,429.46 L61.84,427.08 L62.14,424.75 L62.45,422.48 L62.76,420.26 L63.06,418.09 L63.37,415.97 L63.67,413.89 L63.98,411.87 L64.29,409.88 L64.59,407.95 L64.90,406.05 L65.20,404.20 L65.51,402.39 L65.82,400.61 L66.12,398.88 L66.43,397.19 L66.73,395.53 L67.04,393.91 L67.35,392.33 L67.65,390.78 L67.96,389.26 L68.27,387.78 L68.57,386.33 L68.88,384.91 L69.18,383.52 L69.49,382.16 L69.80,380.83 L70.10,379.53 L70.41,378.26 L70.71,377.01 L71.02,375.80 L71.33,374.60 L71.63,373.44 L71.94,372.29 L72.24,371.18 L72.55,370.08 L72.86,369.01 L73.16,367.96 L73.47,366.93 L73.78,365.93 L74.08,364.94 L74.39,363.98 L74.69,363.03 L75.00,362.11 L75.50,360.64 L77.86,354.32 L80.23,348.91 L82.59,344.25 L84.95,340.22 L87.32,336.71 L89.68,333.65 L92.05,330.94 L94.41,328.54 L96.77,326.40 L99.14,324.47 L101.50,322.73 L103.86,321.13 L106.23,319.67 L108.59,318.31 L110.95,317.05 L113.32,315.87 L115.68,314.76 L118.05,313.71 L120.41,312.71 L122.77,311.76 L125.14,310.84 L127.50,309.97 L129.86,309.12 L132.23,308.31 L134.59,307.52 L136.95,306.75 L139.32,306.01 L141.68,305.29 L144.05,304.58 L146.41,303.90 L148.77,303.23 L151.14,302.57 L153.50,301.94 L155.86,301.31 L158.23,300.70 L160.59,300.11 L162.95,299.52 L165.32,298.95 L167.68,298.39 L170.05,297.85 L172.41,297.31 L174.77,296.79 L177.14,296.27 L179.50,295.77 L181.86,295.27 L184.23,294.79 L186.59,294.32 L188.95,293.85 L191.32,293.40 L193.68,292.95 L196.05,292.52 L198.41,292.09 L200.77,291.67 L203.14,291.26 L205.50,290.85 L207.86,290.46 L210.23,290.07 L212.59,289.69 L214.95,289.32 L217.32,288.95 L219.68,288.60 L222.05,288.25 L224.41,287.90 L226.77,287.57 L229.14,287.24 L231.50,286.91 L233.86,286.60 L236.23,286.29 L238.59,285.98 L240.95,285.68 L243.32,285.39 L245.68,285.10 L248.05,284.82 L250.41,284.55 L252.77,284.28 L255.14,284.01 L257.50,283.75 L259.86,283.50 L262.23,283.25 L264.59,283.01 L266.95,282.77 L269.32,282.53 L271.68,282.30 L274.05,282.08 L276.41,281.86 L278.77,281.64 L281.14,281.43 L283.50,281.22 L285.86,281.02 L288.23,280.82 L290.59,280.62 L292.95,280.43 L295.32,280.24 L297.68,280.05 L300.05,279.87 L302.41,279.70 L304.77,279.52 L307.14,279.35 L309.50,279.19" fill="none" stroke="#e8b83a" stroke-width="1"/>
<path d="M60.00,442.20 L60.31,436.32 L60.61,430.71 L60.92,425.35 L61.22,420.24 L61.53,415.36 L61.84,410.71 L62.14,406.26 L62.45,402.02 L62.76,397.97 L63.06,394.10 L63.37,390.41 L63.67,386.88 L63.98,383.51 L64.29,380.29 L64.59,377.22 L64.90,374.28 L65.20,371.47 L65.51,368.79 L65.82,366.22 L66.12,363.77 L66.43,361.42 L66.73,359.18 L67.04,357.03 L67.35,354.98 L67.65,353.01 L67.96,351.13 L68.27,349.33 L68.57,347.61 L68.88,345.96 L69.18,344.37 L69.49,342.86 L69.80,341.41 L70.10,340.02 L70.41,338.68 L70.71,337.40 L71.02,336.17 L71.33,334.99 L71.63,333.86 L71.94,332.78 L72.24,331.73 L72.55,330.73 L72.86,329.77 L73.16,328.84 L73.47,327.95 L73.78,327.09 L74.08,326.27 L74.39,325.48 L74.69,324.71 L75.00,323.97 L75.50,322.83 L77.86,318.22 L80.23,314.65 L82.59,311.79 L84.95,309.44 L87.32,307.45 L89.68,305.71 L92.05,304.16 L94.41,302.74 L96.77,301.43 L99.14,300.20 L101.50,299.03 L103.86,297.91 L106.23,296.84 L108.59,295.80 L110.95,294.80 L113.32,293.84 L115.68,292.90 L118.05,291.99 L120.41,291.10 L122.77,290.24 L125.14,289.40 L127.50,288.59 L129.86,287.80 L132.23,287.03 L134.59,286.28 L136.95,285.55 L139.32,284.84 L141.68,284.15 L144.05,283.47 L146.41,282.82 L148.77,282.18 L151.14,281.56 L153.50,280.96 L155.86,280.37 L158.23,279.80 L160.59,279.24 L162.95,278.70 L165.32,278.18 L167.68,277.66 L170.05,277.16 L172.41,276.68 L174.77,276.21 L177.14,275.74 L179.50,275.30 L181.86,274.86 L184.23,274.44 L186.59,274.02 L188.95,273.62 L191.32,273.23 L193.68,272.85 L196.05,272.48 L198.41,272.12 L200.77,271.77 L203.14,271.43 L205.50,271.09 L207.86,270.77 L210.23,270.45 L212.59,270.15 L214.95,269.85 L217.32,269.56 L219.68,269.28 L222.05,269.00 L224.41,268.73 L226.77,268.47 L229.14,268.22 L231.50,267.97 L233.86,267.73 L236.23,267.50 L238.59,267.27 L240.95,267.05 L243.32,266.83 L245.68,266.62 L248.05,266.42 L250.41,266.22 L252.77,266.03 L255.14,265.84 L257.50,265.66 L259.86,265.48 L262.23,265.30 L264.59,265.14 L266.95,264.97 L269.32,264.81 L271.68,264.66 L274.05,264.50 L276.41,264.36 L278.77,264.21 L281.14,264.07 L283.50,263.94 L285.86,263.80 L288.23,263.68 L290.59,263.55 L292.95,263.43 L295.32,263.31 L297.68,263.19 L300.05,263.08 L302.41,262.97 L304.77,262.86 L307.14,262.76 L309.50,262.66" fill="none" stroke="#d86a5c" stroke-width="1"/>
<line x1="422.3" y1="441.10" x2="661.3" y2="441.10" stroke="#d4d4d4" stroke-width="1"/>
<line x1="422.3" y1="407.10" x2="661.3" y2="407.10" stroke="#d4d4d4" stroke-width="1"/>
<line x1="422.3" y1="372.30" x2="661.3" y2="372.30" stroke="#d4d4d4" stroke-width="1"/>
<line x1="422.3" y1="338.30" x2="661.3" y2="338.30" stroke="#d4d4d4" stroke-width="1"/>
<line x1="422.3" y1="304.40" x2="661.3" y2="304.40" stroke="#d4d4d4" stroke-width="1"/>
<line x1="422.4" y1="304.4" x2="422.4" y2="441.1" stroke="#c8c8c8" stroke-width="1"/>
<line x1="422.3" y1="407.4" x2="592.9" y2="326.1" stroke="#1e3a40" stroke-width="1.6" stroke-dasharray="1.6,2.2"/>
<circle cx="422.6" cy="406.5" r="3.1" fill="#0e2a30"/>
<circle cx="424.5" cy="406" r="3.1" fill="#0e2a30"/>
<circle cx="426.9" cy="405" r="3.1" fill="#0e2a30"/>
<circle cx="432.1" cy="402.7" r="3.1" fill="#0e2a30"/>
<circle cx="441.6" cy="398.8" r="3.1" fill="#0e2a30"/>
<circle cx="442.1" cy="396.7" r="3.1" fill="#0e2a30"/>
<circle cx="461.5" cy="390.6" r="3.1" fill="#0e2a30"/>
<circle cx="494.9" cy="368.5" r="3.1" fill="#0e2a30"/>
<circle cx="501.3" cy="375.6" r="3.1" fill="#0e2a30"/>
<circle cx="507.7" cy="362.1" r="3.1" fill="#0e2a30"/>
<circle cx="563.5" cy="332.8" r="3.1" fill="#0e2a30"/>
<circle cx="580.4" cy="345" r="3.1" fill="#0e2a30"/>
<circle cx="595.2" cy="319" r="3.1" fill="#0e2a30"/>
<text transform="translate(8.77,16.00) scale(1.0339,1)" font-family='"Liberation Sans", sans-serif' font-weight="bold" font-size="10.57" fill="#1b2a5c" stroke="#1b2a5c" stroke-width="0.1">Sensors</text>
<text transform="translate(63.26,226.70) scale(1.1047,1)" font-family='"Liberation Sans", sans-serif' font-weight="normal" font-size="8.80" fill="#7a2a8a" stroke="#7a2a8a" stroke-width="0.12">Standards</text>
<text transform="translate(152.01,228.10) scale(0.9888,1)" font-family='"Liberation Sans", sans-serif' font-weight="normal" font-size="9.64" fill="#c4643c" stroke="#c4643c" stroke-width="0.12">Test Samples</text>
<text transform="translate(232.3,249) rotate(-37.5) scale(1,1.1)" font-family='"Liberation Sans", sans-serif' font-size="9.5" fill="#35a86a" stroke="#35a86a" stroke-width="0.08">Regeneration</text>
<text transform="translate(254.3,250) rotate(-37.5) scale(1,1.1)" font-family='"Liberation Sans", sans-serif' font-size="9.5" fill="#7a8cec" stroke="#7a8cec" stroke-width="0.05">Buffer/Media</text>
<text transform="translate(401.2,79.8) scale(1.07,1)" text-anchor="end" font-family='"Liberation Sans", sans-serif' font-size="17.1" fill="#111" stroke="#111" stroke-width="0.3">1.5</text>
<text transform="translate(401.2,116.8) scale(1.07,1)" text-anchor="end" font-family='"Liberation Sans", sans-serif' font-size="17.1" fill="#111" stroke="#111" stroke-width="0.3">1.0</text>
<text transform="translate(401.2,153.0) scale(1.07,1)" text-anchor="end" font-family='"Liberation Sans", sans-serif' font-size="17.1" fill="#111" stroke="#111" stroke-width="0.3">0.5</text>
<text transform="translate(402.82,209.60) scale(1.2655,1)" font-family='"Liberation Sans", sans-serif' font-weight="normal" font-size="17.29" fill="#1a1a1a" stroke="#1a1a1a" stroke-width="0.3">0</text>
<text transform="translate(632.71,209.60) scale(1.1301,1)" font-family='"Liberation Sans", sans-serif' font-weight="normal" font-size="17.57" fill="#1a1a1a" stroke="#1a1a1a" stroke-width="0.3">1000</text>
<text transform="translate(446.81,226.60) scale(1.1244,1)" font-family='"Liberation Sans", sans-serif' font-weight="normal" font-size="17.60" fill="#111" stroke="#111" stroke-width="0.3">Concentration (µg/mL)</text>
<text transform="translate(364.20,161.25) rotate(-90) scale(1.0269,1)" font-family='"Liberation Sans", sans-serif' font-weight="normal" font-size="17.60" fill="#1a1a1a" stroke="#1a1a1a" stroke-width="0.3">Binding Rate</text>
<text x="53.7" y="446.45" text-anchor="end" font-family='"Liberation Sans", sans-serif' font-size="7.8" fill="#222">0</text>
<text x="53.7" y="426.00" text-anchor="end" font-family='"Liberation Sans", sans-serif' font-size="7.8" fill="#222">1</text>
<text x="53.7" y="405.55" text-anchor="end" font-family='"Liberation Sans", sans-serif' font-size="7.8" fill="#222">2</text>
<text x="53.7" y="385.10" text-anchor="end" font-family='"Liberation Sans", sans-serif' font-size="7.8" fill="#222">3</text>
<text x="53.7" y="364.65" text-anchor="end" font-family='"Liberation Sans", sans-serif' font-size="7.8" fill="#222">4</text>
<text x="53.7" y="344.20" text-anchor="end" font-family='"Liberation Sans", sans-serif' font-size="7.8" fill="#222">5</text>
<text x="53.7" y="323.75" text-anchor="end" font-family='"Liberation Sans", sans-serif' font-size="7.8" fill="#222">6</text>
<text x="53.7" y="303.30" text-anchor="end" font-family='"Liberation Sans", sans-serif' font-size="7.8" fill="#222">7</text>
<text x="53.7" y="282.85" text-anchor="end" font-family='"Liberation Sans", sans-serif' font-size="7.8" fill="#222">8</text>
<text x="53.7" y="262.40" text-anchor="end" font-family='"Liberation Sans", sans-serif' font-size="7.8" fill="#222">9</text>
<text transform="translate(57.20,453.9) scale(1.08,1)" text-anchor="middle" font-family='"Liberation Sans", sans-serif' font-size="7.5" fill="#222">0</text>
<text transform="translate(99.30,453.9) scale(1.08,1)" text-anchor="middle" font-family='"Liberation Sans", sans-serif' font-size="7.5" fill="#222">20</text>
<text transform="translate(141.40,453.9) scale(1.08,1)" text-anchor="middle" font-family='"Liberation Sans", sans-serif' font-size="7.5" fill="#222">40</text>
<text transform="translate(183.50,453.9) scale(1.08,1)" text-anchor="middle" font-family='"Liberation Sans", sans-serif' font-size="7.5" fill="#222">60</text>
<text transform="translate(225.60,453.9) scale(1.08,1)" text-anchor="middle" font-family='"Liberation Sans", sans-serif' font-size="7.5" fill="#222">80</text>
<text transform="translate(267.70,453.9) scale(1.08,1)" text-anchor="middle" font-family='"Liberation Sans", sans-serif' font-size="7.5" fill="#222">100</text>
<text transform="translate(309.80,453.9) scale(1.08,1)" text-anchor="middle" font-family='"Liberation Sans", sans-serif' font-size="7.5" fill="#222">120</text>
<text transform="translate(178.95,461.60) scale(1.0089,1)" font-family='"Liberation Sans", sans-serif' font-weight="normal" font-size="7.54" fill="#222" stroke="#222" stroke-width="0">Time (sec)</text>
<text transform="translate(44.30,359.99) rotate(-90) scale(1.0463,1)" font-family='"Liberation Sans", sans-serif' font-weight="normal" font-size="7.54" fill="#222" stroke="#222" stroke-width="0.1">Shift (nm)</text>
<text transform="translate(409.9,309.50) scale(1.05,1)" text-anchor="end" font-family='"Liberation Sans", sans-serif' font-size="14.3" fill="#111" stroke="#111" stroke-width="0.25">1500</text>
<text transform="translate(409.9,343.40) scale(1.05,1)" text-anchor="end" font-family='"Liberation Sans", sans-serif' font-size="14.3" fill="#111" stroke="#111" stroke-width="0.25">1000</text>
<text transform="translate(409.9,377.40) scale(1.05,1)" text-anchor="end" font-family='"Liberation Sans", sans-serif' font-size="14.3" fill="#111" stroke="#111" stroke-width="0.25">500</text>
<text transform="translate(409.9,412.20) scale(1.05,1)" text-anchor="end" font-family='"Liberation Sans", sans-serif' font-size="14.3" fill="#111" stroke="#111" stroke-width="0.25">0</text>
<text transform="translate(409.9,446.20) scale(1.05,1)" text-anchor="end" font-family='"Liberation Sans", sans-serif' font-size="14.3" fill="#111" stroke="#111" stroke-width="0.25">-500</text>
<text transform="translate(422.25,428.9) scale(1.06,1)" text-anchor="middle" font-family='"Liberation Sans", sans-serif' font-size="14.3" fill="#111" stroke="#111" stroke-width="0.25">0</text>
<text transform="translate(501.70,428.9) scale(1.06,1)" text-anchor="middle" font-family='"Liberation Sans", sans-serif' font-size="14.3" fill="#111" stroke="#111" stroke-width="0.25">500</text>
<text transform="translate(581.30,428.9) scale(1.06,1)" text-anchor="middle" font-family='"Liberation Sans", sans-serif' font-size="14.3" fill="#111" stroke="#111" stroke-width="0.25">1000</text>
<text transform="translate(660.50,428.9) scale(1.06,1)" text-anchor="middle" font-family='"Liberation Sans", sans-serif' font-size="14.3" fill="#111" stroke="#111" stroke-width="0.25">1500</text>
<text transform="translate(491.86,456.60) scale(1.0269,1)" font-family='"Liberation Sans", sans-serif' font-weight="bold" font-size="14.53" fill="#111" stroke="#111" stroke-width="0.05">HPLC (µg/mL)</text>
<text transform="translate(370.80,434.99) rotate(-90) scale(1.0294,1)" font-family='"Liberation Sans", sans-serif' font-weight="bold" font-size="14.39" fill="#111" stroke="#111" stroke-width="0.05">Gator Bio (µg/mL)</text>
<text transform="translate(404.09,264.60) scale(1.0468,1)" font-family='"Liberation Sans", sans-serif' font-weight="bold" font-size="16.90" fill="#111" stroke="#111" stroke-width="0.05">Gator Bio IgG Quantitation</text>
<text transform="translate(400.09,285.30) scale(1.0041,1)" font-family='"Liberation Sans", sans-serif' font-weight="bold" font-size="17.60" fill="#111" stroke="#111" stroke-width="0.05">Correlation to HPLC (n =33)</text>
<text transform="translate(554.30,385.50) scale(1.0746,1)" font-family='"Liberation Sans", sans-serif' font-weight="normal" font-size="13.86" fill="#1a1a1a" stroke="#1a1a1a" stroke-width="0.3">y = 1.09x - 4.62</text>
<text transform="translate(574.30,402.10) scale(1.0634,1)" font-family='"Liberation Sans", sans-serif' font-weight="normal" font-size="14.11" fill="#1a1a1a" stroke="#1a1a1a" stroke-width="0.3">R² = 0.98</text>
</svg>
</body></html>
